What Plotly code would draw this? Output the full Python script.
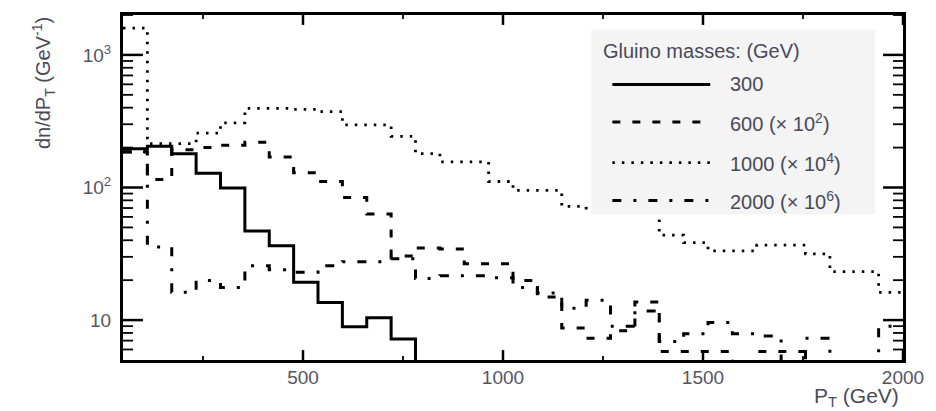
import numpy as np
import plotly.graph_objects as go

# ---------------- data ----------------
PT_MIN, PT_MAX, NBINS = 50, 2000, 32
Y_MIN, Y_MAX = 5, 2000

m300 = [196, 205, 180, 128, 99, 47, 36.3, 19.3, 13.6, 8.9, 10.4, 7.2,
        0, 0, 0, 0, 0, 0, 0, 0, 0, 0, 0, 0, 0, 0, 0, 0, 0, 0, 0, 0]
m600 = [186, 115, 193, 200, 208, 219, 170, 129, 111, 84, 63, 30.5,
        35, 34.4, 26.6, 26.6, 19.9, 14.9, 8.7, 7.3, 8.3, 13.7, 5.8, 5.8,
        5.8, 0, 5.8, 5.8, 0, 0, 0, 0]
m1000 = [1590, 214, 214, 257, 307, 395, 395, 388, 373, 297, 297, 243,
         180, 156, 156, 111, 95, 95, 72, 70, 68, 65, 43.8, 38.4,
         33.3, 33.3, 36.7, 36.7, 31.6, 23.2, 23.2, 16.2]
m2000 = [185, 35.6, 16.2, 19.9, 17.6, 25.7, 24, 23, 25.7, 27.5, 27.5, 29,
         20.6, 21.6, 21.6, 20.9, 17.6, 16, 12.3, 14.1, 9.0, 11.7, 6.9, 7.9,
         9.6, 7.9, 7.6, 0, 7.3, 0, 0, 9]

series_names = ["300", "600 (× 10<sup>2</sup>)", "1000 (× 10<sup>4</sup>)", "2000 (× 10<sup>6</sup>)"]
series_vals = [m300, m600, m1000, m2000]
series_dash = ["solid", "8px,12px", "2.5px,7px", "9px,12px,3px,12px"]
series_width = [3, 3, 2.8, 3]

x_tickvals = [500, 1000, 1500, 2000]
x_minor = [250, 750, 1250, 1750]
y_tickvals = [10, 100, 1000]
y_ticktext = ["10", "10<sup>2</sup>", "10<sup>3</sup>"]
y_minor = [6, 7, 8, 9, 20, 30, 40, 50, 60, 70, 80, 90,
           200, 300, 400, 500, 600, 700, 800, 900, 2000]

FONT = "Liberation Sans, Arial, Helvetica, sans-serif"
TXT = "#4a4a58"
W, H = 936, 411
ML, MR, MT, MB = 123, 32, 12, 51
PW, PH = W - ML - MR, H - MT - MB


def px_x(p):
    return (p - ML) / PW


def px_y(p):
    return (H - MB - p) / PH


edges = np.linspace(PT_MIN, PT_MAX, NBINS + 1)
FLOOR = 1.0  # empty bins are drawn below the frame (as ROOT does on log scale)

fig = go.Figure()

# ---- inward tick marks on all four sides (ROOT style) ----
GEV_PER_PX = (PT_MAX - PT_MIN) / PW
DEC_PER_PX = (np.log10(Y_MAX) - np.log10(Y_MIN)) / PH


def tick_trace(xv, yv, lx, ly, width):
    xs, ys = [], []
    for v in xv:  # ticks on bottom and top frame
        xs += [v, v, None, v, v, None]
        ys += [Y_MIN, Y_MIN * 10 ** (lx * DEC_PER_PX), None,
               Y_MAX, Y_MAX / 10 ** (lx * DEC_PER_PX), None]
    for v in yv:  # ticks on left and right frame
        xs += [PT_MIN, PT_MIN + ly * GEV_PER_PX, None,
               PT_MAX, PT_MAX - ly * GEV_PER_PX, None]
        ys += [v, v, None, v, v, None]
    return go.Scatter(x=xs, y=ys, mode="lines", connectgaps=False,
                      line=dict(color="black", width=width),
                      showlegend=False, hoverinfo="skip")


fig.add_trace(tick_trace(x_tickvals, y_tickvals, 10, 20, 2.5))
fig.add_trace(tick_trace(x_minor, y_minor, 4, 10, 1.8))

for name, vals, dash, w in zip(series_names, series_vals, series_dash, series_width):
    v = np.array(vals, dtype=float)
    v = np.where(v > 0, v, FLOOR)
    fig.add_trace(go.Scatter(
        x=edges, y=np.append(v, v[-1]), mode="lines", name=name,
        line=dict(shape="hv", color="black", width=w, dash=dash),
        showlegend=False, hoverinfo="skip"))

fig.update_layout(
    width=W, height=H, margin=dict(l=ML, r=MR, t=MT, b=MB),
    paper_bgcolor="white", plot_bgcolor="white",
    font=dict(family=FONT, color=TXT, size=18),
    showlegend=False,
    xaxis=dict(range=[PT_MIN, PT_MAX], tickmode="array", tickvals=x_tickvals,
               ticks="", showgrid=False, zeroline=False, showline=True,
               linewidth=3, linecolor="black", mirror=True,
               ticklabelstandoff=-2,
               tickfont=dict(size=19, color="#555562")),
    yaxis=dict(type="log", range=[np.log10(Y_MIN), np.log10(Y_MAX)],
               tickmode="array", tickvals=y_tickvals, ticktext=y_ticktext,
               ticks="", showgrid=False, zeroline=False, showline=True,
               linewidth=3, linecolor="black", mirror=True,
               ticklabelstandoff=5,
               tickfont=dict(size=19, color="#555562")),
)

# axis titles
fig.add_annotation(
    text="dn/dP<sub>T</sub> (GeV<sup>-1</sup>)", textangle=-90,
    xref="paper", yref="paper", x=px_x(43), y=px_y(12),
    xanchor="center", yanchor="top", showarrow=False,
    font=dict(size=20, color=TXT))
fig.add_annotation(
    text="P<sub>T</sub> (GeV)", xref="paper", yref="paper",
    x=px_x(902), y=px_y(397), xanchor="right", yanchor="middle",
    showarrow=False, font=dict(size=21, color=TXT))

# legend box (drawn by hand to match the reference layout)
fig.add_shape(type="rect", xref="paper", yref="paper", layer="above",
              x0=px_x(592), x1=px_x(876), y0=px_y(213), y1=px_y(27),
              fillcolor="#f4f4f4", line=dict(width=0))
fig.add_annotation(
    text="Gluino masses: (GeV)", xref="paper", yref="paper",
    x=px_x(602), y=px_y(48), xanchor="left", yanchor="middle",
    showarrow=False, font=dict(size=20, color=TXT))
row_y = [82, 120, 161, 199]
for name, dash, w, ry in zip(series_names, series_dash, series_width, row_y):
    fig.add_shape(type="line", xref="paper", yref="paper", layer="above",
                  x0=px_x(613), x1=px_x(711), y0=px_y(ry), y1=px_y(ry),
                  line=dict(color="black", width=w, dash=dash))
    fig.add_annotation(
        text=name, xref="paper", yref="paper", x=px_x(729), y=px_y(ry),
        xanchor="left", yanchor="middle", showarrow=False,
        font=dict(size=20, color=TXT))

fig.write_html("out.html")
